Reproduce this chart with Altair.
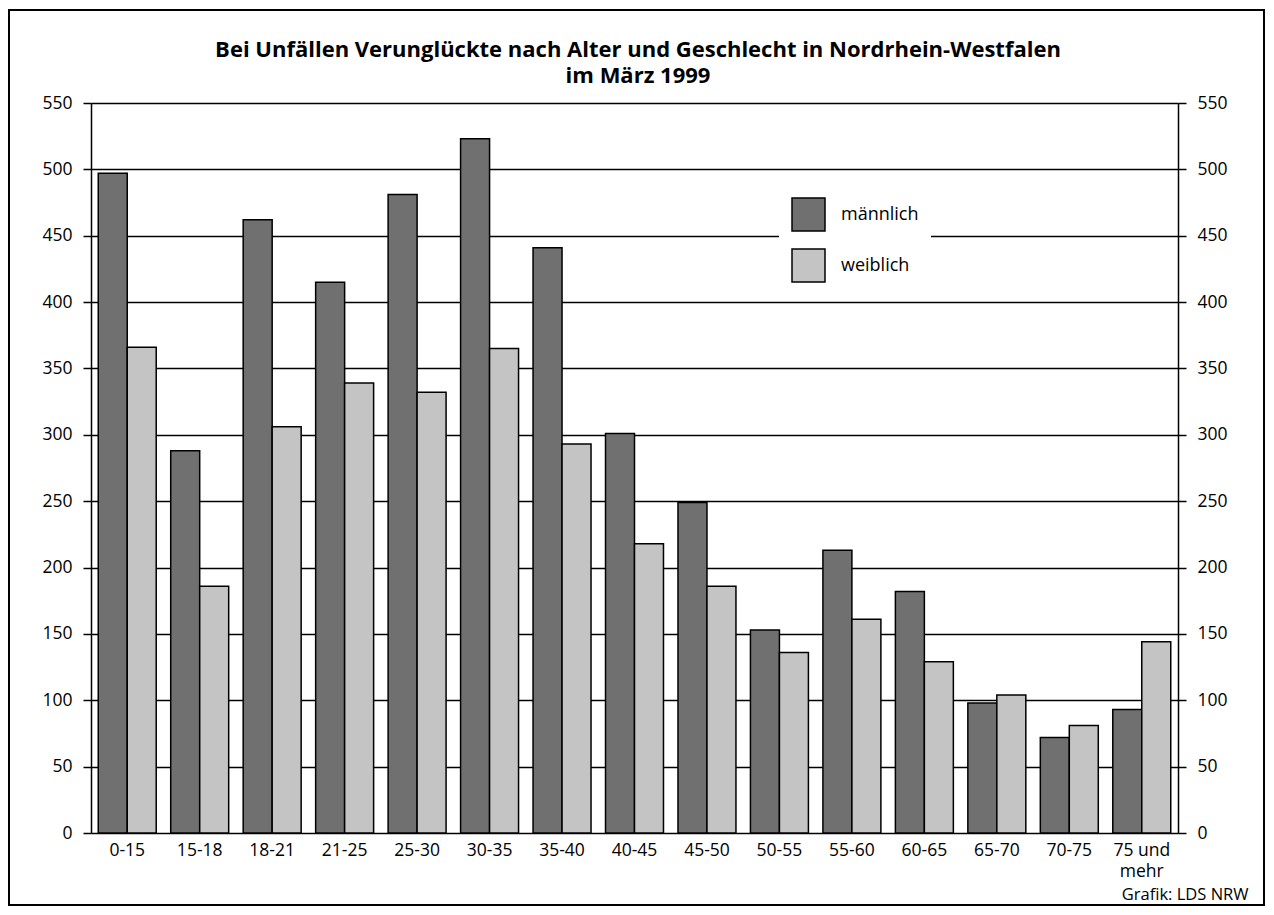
import altair as alt
import pandas as pd

categories = ["0-15", "15-18", "18-21", "21-25", "25-30", "30-35", "35-40", "40-45",
              "45-50", "50-55", "55-60", "60-65", "65-70", "70-75", "75 und mehr"]
maennlich = [497, 288, 462, 415, 481, 523, 441, 301, 249, 153, 213, 182, 98, 72, 93]
weiblich = [366, 186, 306, 339, 332, 365, 293, 218, 186, 136, 161, 129, 104, 81, 144]
series = ["männlich", "weiblich"]
y_ticks = list(range(0, 551, 50))

title_lines = ["Bei Unfällen Verunglückte nach Alter und Geschlecht in Nordrhein-Westfalen",
               "im März 1999"]
source_note = "Grafik: LDS NRW"

rows = []
for c, m, w in zip(categories, maennlich, weiblich):
    rows.append({"Alter": c, "Geschlecht": series[0], "Wert": m})
    rows.append({"Alter": c, "Geschlecht": series[1], "Wert": w})
df = pd.DataFrame(rows)

FONT = "Open Sans"
yscale = alt.Scale(domain=[0, 550], nice=False)

bars = alt.Chart(df).mark_bar(stroke="black", strokeWidth=1.5).encode(
    x=alt.X("Alter:N", sort=categories,
            scale=alt.Scale(paddingInner=0.2, paddingOuter=0.1),
            axis=alt.Axis(title=source_note, labelAngle=0, domain=False, ticks=False,
                          labelFontSize=17.5, labelFont=FONT, labelColor="black",
                          labelPadding=8, labelLineHeight=21,
                          labelExpr="datum.label == '75 und mehr' ? ['75 und', 'mehr'] : datum.label",
                          titleFont=FONT, titleFontSize=16.5, titleFontWeight="normal",
                          titleColor="black", titleAnchor="end", titleAlign="right",
                          titleBaseline="alphabetic", titleX=1157, titleY=66)),
    xOffset=alt.XOffset("Geschlecht:N", sort=series,
                        scale=alt.Scale(paddingInner=0, paddingOuter=0)),
    y=alt.Y("Wert:Q", scale=yscale,
            axis=alt.Axis(title=None, values=y_ticks, grid=True, gridColor="black",
                          gridWidth=1.5, gridOpacity=1, domain=True, domainColor="black",
                          domainWidth=1.5, tickColor="black", tickSize=8, tickWidth=1.5,
                          labelFontSize=17.5, labelFont=FONT, labelColor="black",
                          labelPadding=11, orient="left")),
    fill=alt.Fill("Geschlecht:N", sort=series,
                  scale=alt.Scale(domain=series, range=["#707070", "#c4c4c4"]),
                  legend=alt.Legend(title=None, orient="none", legendX=688, legendY=82,
                                    fillColor="white", padding=12, symbolType="square",
                                    symbolSize=1089, symbolStrokeColor="black",
                                    symbolStrokeWidth=1.5, symbolOpacity=1,
                                    rowPadding=12, labelOffset=15, labelFontSize=18,
                                    labelFont=FONT, labelColor="black", labelLimit=200)),
)

right_axis = alt.Chart(df).mark_tick(opacity=0).encode(
    y=alt.Y("Wert:Q", scale=yscale,
            axis=alt.Axis(title=None, values=y_ticks, grid=False, orient="right",
                          domain=True, domainColor="black", domainWidth=1.5,
                          tickColor="black", tickSize=8, tickWidth=1.5,
                          labelFontSize=17.5, labelFont=FONT, labelColor="black",
                          labelPadding=11)),
)

frame = alt.Chart(pd.DataFrame({"f": [1]})).mark_rect(
    fillOpacity=0, stroke="black", strokeWidth=2
).encode(x=alt.value(-82), x2=alt.value(1173), y=alt.value(-93), y2=alt.value(802))

title = alt.Chart(pd.DataFrame({"f": [1]})).mark_text(
    font=FONT, fontSize=22, fontWeight="bold", color="black", align="center",
    baseline="alphabetic", lineHeight=26
).encode(x=alt.value(547), y=alt.value(-46), text=alt.value(title_lines))

chart = alt.layer(frame, title, bars, right_axis).resolve_axis(y="independent").properties(
    width=1087, height=730,
    padding={"left": 0, "top": 1, "right": 0, "bottom": 0},
).configure_view(stroke=None).configure(background="white")

chart.save("out.html", embed_options={"renderer": "svg", "actions": False})
